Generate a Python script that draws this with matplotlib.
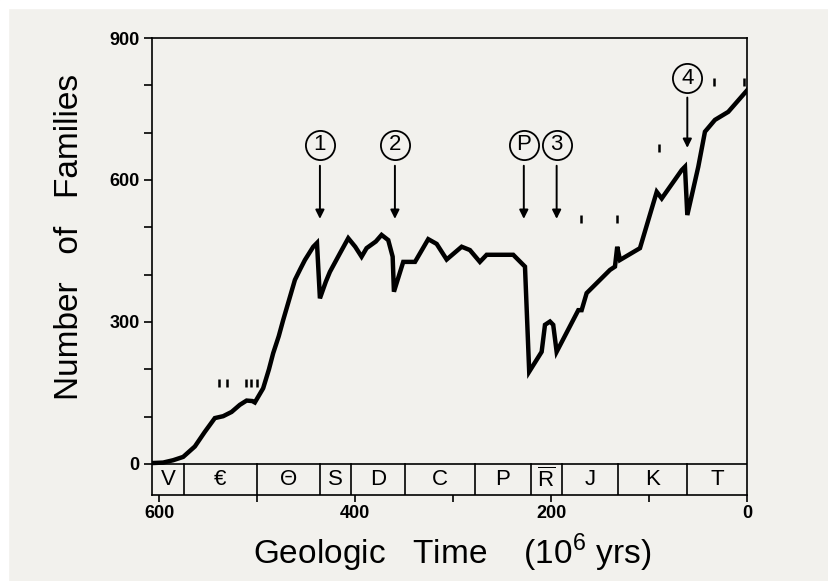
import numpy as np
import matplotlib
matplotlib.use('Agg')
import matplotlib.pyplot as plt
from matplotlib.patches import Rectangle

plt.rcParams['font.family'] = ['Liberation Sans', 'DejaVu Sans']
plt.rcParams['mathtext.fontset'] = 'custom'
plt.rcParams['mathtext.rm'] = 'Liberation Sans'

# number of marine families through time
ages = [607, 596, 585.7, 575.5, 563.6, 553.4, 543.2, 534.7, 526.1, 517.7, 510.8, 505, 502.4,
        493.9, 488, 483.7, 478, 473.5, 467, 461.5, 456, 451.3, 442.8, 439, 436, 430, 425.8,
        415.6, 407.1, 400, 393.5, 388.4, 379, 373.1, 366.3, 361.8, 360.5, 351, 339, 325.5,
        316.9, 306.7, 291.4, 283, 272.8, 265.9, 238.8, 226.8, 222.5, 209.8, 206.4, 201.3,
        198, 194.5, 172.4, 169, 163.9, 140.1, 135, 132.7, 129.9, 109.5, 92.4, 87.3, 66.9,
        63.6, 61.2, 50, 43.2, 33, 19.4, 0]
families = [2, 3, 8, 15, 37, 68, 97, 101, 110, 125, 134, 133, 130,
            160, 200, 234, 270, 304, 350, 389, 412, 431, 459, 467, 350, 385, 406,
            445, 477, 459, 438, 456, 470, 484, 473, 438, 364, 427, 427, 475,
            465, 432, 459, 452, 427, 442, 442, 417, 195, 237, 294, 301,
            294, 237, 325, 325, 361, 410, 417, 459, 431, 456, 575, 561, 621,
            628, 526, 628, 702, 727, 744, 790]

# geologic periods
periods = ['V', '€', 'Θ', 'S', 'D', 'C', 'P', r'$\overline{\mathrm{R}}$', 'J', 'K', 'T']
bounds = [607, 575, 500, 436, 404, 349, 278, 221, 189, 132, 62, 0]

# mass extinctions
ext_ages = [436, 359.5, 228, 194.5, 61.2]
ext_labels = ['1', '2', 'P', '3', '4']

# short tick marks
dash_ages = [538.8, 530.3, 511.4, 506.3, 500.2, 170, 133, 89.8, 33.7, 3]
dash_fams = [172, 172, 172, 172, 172, 518, 518, 667, 808, 808]

paper = '#f2f1ed'
fig = plt.figure(figsize=(8.29, 5.81), dpi=100, facecolor=paper)
fig.patches.append(Rectangle((0, 0), 8 / 829, 1, transform=fig.transFigure, color='white', zorder=0))
fig.patches.append(Rectangle((0, 1 - 8 / 581), 1, 8 / 581, transform=fig.transFigure, color='white', zorder=0))

ax = fig.add_axes([152.3 / 829, 1 - 495 / 581, (747.3 - 152.3) / 829, (495 - 38) / 581])
ax.set_facecolor('none')
ax.set_xlim(607, 0)
ax.set_ylim(-65.5, 900)

ax.plot(ages, families, color='black', lw=3.2, solid_joinstyle='miter', zorder=3)
ax.plot(dash_ages, dash_fams, ls='none', marker='|', ms=6, mew=1.8, color='black')

# period band
ax.axhline(0, color='black', lw=1.2)
for b in bounds[1:-1]:
    ax.plot([b, b], [-65.5, 0], color='black', lw=1.2)
for i, name in enumerate(periods):
    ax.text((bounds[i] + bounds[i + 1]) / 2, -33, name, ha='center', va='center', fontsize=16)

# extinction arrows
for a, lab in zip(ext_ages, ext_labels):
    if lab == '4':
        cy, y0, y1 = 815, 780, 662
    else:
        cy, y0, y1 = 674, 636, 512
    ax.plot(a, cy, 'o', ms=21, mfc='none', mec='black', mew=1.3)
    ax.text(a, cy, lab, ha='center', va='center', fontsize=16)
    ax.annotate('', xy=(a, y1), xytext=(a, y0),
                arrowprops=dict(arrowstyle='-|>', color='black', lw=1.4, mutation_scale=13))

ax.set_yticks([0, 300, 600, 900])
ax.set_yticks([100, 200, 400, 500, 700, 800], minor=True)
ax.set_xticks([600, 400, 200, 0])
ax.set_xticks([500, 300, 100], minor=True)
ax.tick_params(which='both', direction='out', length=6, width=1.2, labelsize=13)
ax.tick_params(axis='x', which='both', length=5, pad=2)
ax.tick_params(axis='y', pad=3)
for lab in ax.get_xticklabels() + ax.get_yticklabels():
    lab.set_fontweight('bold')
for s in ax.spines.values():
    s.set_linewidth(1.2)

fig.text(70 / 829, 1 - 237 / 581, 'Number   of   Families', rotation=90,
         ha='center', va='center', fontsize=24)
fig.text(452 / 829, 1 - 553 / 581, r'Geologic   Time    (10$^{\mathregular{6}}$ yrs)',
         ha='center', va='center', fontsize=24)

plt.savefig('out.png', dpi=100, facecolor=paper)
